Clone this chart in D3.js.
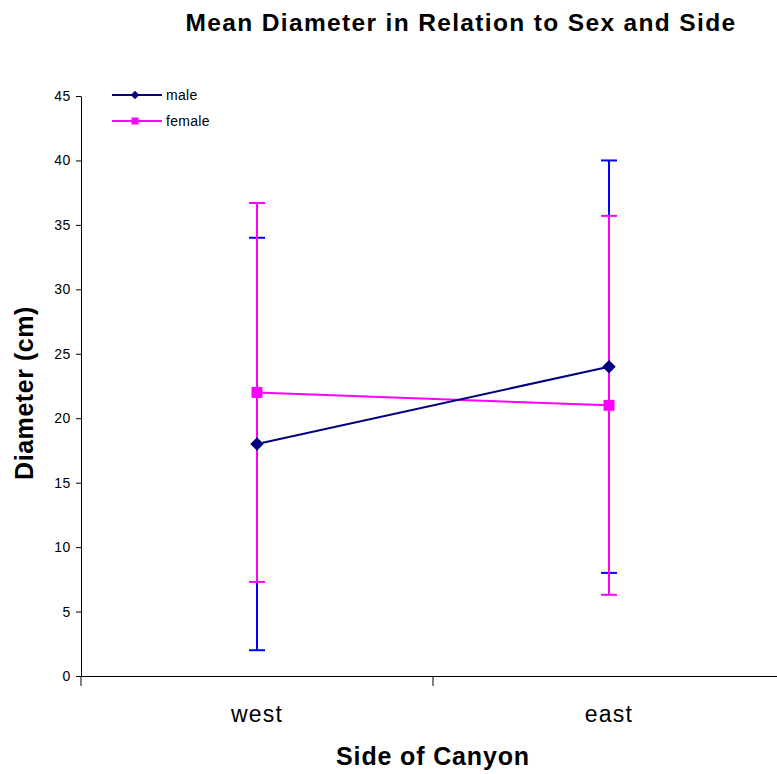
<!DOCTYPE html>
<html><head><meta charset="utf-8">
<script src="https://cdn.jsdelivr.net/npm/d3@7"></script>
<style>body{margin:0;background:#fff}svg{display:block;font-family:"Liberation Sans",Arial,sans-serif}</style>
</head><body>
<svg id="c" width="777" height="774"></svg>
<script>
const categories = ["west", "east"];
const maleMeans = [18, 24];
const maleErr = [16, 16];
const femaleMeans = [22, 21];
const femaleErr = [14.7, 14.7];
const yTicks = [0, 5, 10, 15, 20, 25, 30, 35, 40, 45];

const svg = d3.select("#c");
const x = d3.scaleBand().domain(categories).range([81, 785]);
const y = d3.scaleLinear().domain([0, 45]).range([676, 96]);

// axes
const yAxis = svg.append("g").attr("transform", "translate(81,0)")
  .call(d3.axisLeft(y).tickValues(yTicks).tickSize(5).tickSizeOuter(0));
yAxis.select(".domain").attr("stroke", "#000");
yAxis.selectAll("text").attr("font-size", 14).attr("letter-spacing", 0.6)
  .attr("font-family", "Liberation Sans, Arial, sans-serif").attr("dx", "-2");

const xAxis = svg.append("g").attr("transform", "translate(0,676)")
  .call(d3.axisBottom(x).tickSize(0).tickSizeOuter(0));
xAxis.selectAll("text").attr("font-size", 23).attr("letter-spacing", 1.2)
  .attr("font-family", "Liberation Sans, Arial, sans-serif")
  .attr("y", 0).attr("dy", 0).attr("transform", "translate(0,46)");
// category boundary ticks
svg.append("g").selectAll("line").data([x("west"), x("east")]).join("line")
  .attr("x1", d => d).attr("x2", d => d).attr("y1", 676).attr("y2", 686).attr("stroke", "#000");

const series = [
  {name: "male", means: maleMeans, err: maleErr, line: "#000080", bar: "#0000ff", shape: "diamond"},
  {name: "female", means: femaleMeans, err: femaleErr, line: "#ff00ff", bar: "#ff00ff", shape: "square"}
];
const cx = c => x(c) + x.bandwidth() / 2;
const marker = (sel, shape, size) => {
  sel.attr("d", d3.symbol().type(d3.symbolSquare).size(size))
     .attr("transform", function () { return d3.select(this).attr("transform") + (shape === "diamond" ? " rotate(45)" : ""); });
};

// error bars
series.forEach(s => {
  const g = svg.append("g").attr("stroke", s.bar).attr("stroke-width", 2);
  categories.forEach((c, i) => {
    const lo = y(s.means[i] - s.err[i]), hi = y(s.means[i] + s.err[i]), px = cx(c);
    g.append("line").attr("x1", px).attr("x2", px).attr("y1", lo).attr("y2", hi);
    g.append("line").attr("x1", px - 8).attr("x2", px + 8).attr("y1", lo).attr("y2", lo);
    g.append("line").attr("x1", px - 8).attr("x2", px + 8).attr("y1", hi).attr("y2", hi);
  });
});

// lines + markers
[series[1], series[0]].forEach(s => {
  svg.append("path").datum(s.means)
    .attr("d", d3.line().x((d, i) => cx(categories[i])).y(d => y(d)))
    .attr("fill", "none").attr("stroke", s.line).attr("stroke-width", 2);
  svg.append("g").selectAll("path").data(s.means).join("path")
    .attr("transform", (d, i) => `translate(${cx(categories[i])},${y(d)})`)
    .call(marker, s.shape, s.shape === "diamond" ? 90 : 121)
    .attr("fill", s.line);
});

// legend
series.forEach((s, i) => {
  const ly = 95 + i * 26;
  svg.append("line").attr("x1", 112).attr("x2", 162).attr("y1", ly).attr("y2", ly)
    .attr("stroke", s.line).attr("stroke-width", 2);
  svg.append("path").attr("transform", `translate(135,${ly})`)
    .call(marker, s.shape, s.shape === "diamond" ? 36 : 49).attr("fill", s.line);
  svg.append("text").attr("x", 166).attr("y", ly + 5).attr("font-size", 14).attr("letter-spacing", 0.3).text(s.name);
});

// titles
svg.append("text").attr("x", 461).attr("y", 31).attr("text-anchor", "middle")
  .attr("font-size", 24.5).attr("font-weight", "bold").attr("letter-spacing", 1.35)
  .text("Mean Diameter in Relation to Sex and Side");
svg.append("text").attr("x", 433).attr("y", 765).attr("text-anchor", "middle")
  .attr("font-size", 25).attr("font-weight", "bold").attr("letter-spacing", 0.85)
  .text("Side of Canyon");
svg.append("text").attr("transform", "translate(33,393) rotate(-90)").attr("text-anchor", "middle")
  .attr("font-size", 25).attr("font-weight", "bold").attr("letter-spacing", 0.55)
  .text("Diameter (cm)");
</script>
</body></html>
